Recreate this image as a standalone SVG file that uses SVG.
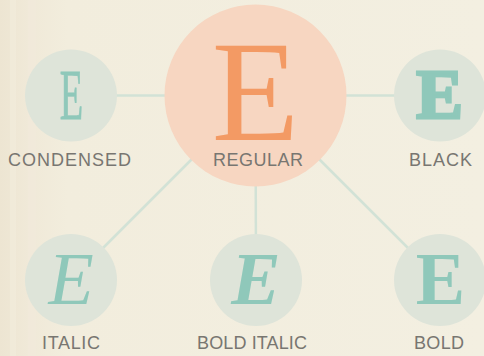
<svg xmlns="http://www.w3.org/2000/svg" width="484" height="356" viewBox="0 0 484 356">
  <defs>
    <linearGradient id="bg" x1="0" y1="0" x2="1" y2="0">
      <stop offset="0" stop-color="#ede5d2"/>
      <stop offset="0.06" stop-color="#f0e9d8"/>
      <stop offset="0.14" stop-color="#f2eddd"/>
      <stop offset="1" stop-color="#f3efe1"/>
    </linearGradient>
    <style>
      .conn { stroke: #d2e2d6; stroke-width: 2.5; fill: none; }
      .small { fill: #dee4d9; }
      .big { fill: #f7d6c1; }
      .glyph { font-family: "Liberation Serif", "Times New Roman", serif; fill: #8fc8ba; text-anchor: middle; }
      .label { font-family: "Liberation Sans", Arial, sans-serif; font-size: 18px; fill: #787671; text-anchor: middle; }
    </style>
  </defs>
  <rect x="0" y="0" width="484" height="356" fill="url(#bg)"/>
  <rect x="10" y="0" width="6" height="356" fill="#f2ecdc" opacity="0.6"/>
  <rect x="28" y="0" width="8" height="356" fill="#f1eadb" opacity="0.5"/>
  <g id="connectors">
    <line class="conn" x1="255.5" y1="95.5" x2="71" y2="95.5"/>
    <line class="conn" x1="255.5" y1="95.5" x2="440" y2="95.5"/>
    <line class="conn" x1="255.5" y1="95.5" x2="256" y2="280"/>
    <line class="conn" x1="255.5" y1="95.5" x2="71" y2="280"/>
    <line class="conn" x1="255.5" y1="95.5" x2="440" y2="280"/>
  </g>
  <g id="condensed">
    <circle class="small" cx="71" cy="95.5" r="46"/>
    <text class="glyph" font-size="71" transform="translate(71.5 119) scale(0.54 1)" x="0" y="0" stroke="#8fc8ba" stroke-width="0.8">E</text>
    <text class="label" x="69.5" y="165.5" textLength="123" lengthAdjust="spacing">CONDENSED</text>
  </g>
  <g id="regular">
    <circle class="big" cx="255.5" cy="95.5" r="91"/>
    <text class="glyph" x="255.5" y="140" font-size="143" style="fill:#f39a64">E</text>
    <text class="label" x="258" y="165.5" textLength="90" lengthAdjust="spacing">REGULAR</text>
  </g>
  <g id="black">
    <circle class="small" cx="440" cy="95.5" r="46"/>
    <text class="glyph" x="439.5" y="118" font-size="70" font-weight="bold" stroke="#8fc8ba" stroke-width="3" stroke-linejoin="miter">E</text>
    <text class="label" x="440.5" y="165.5" textLength="63" lengthAdjust="spacing">BLACK</text>
  </g>
  <g id="italic">
    <circle class="small" cx="71" cy="280" r="46"/>
    <text class="glyph" x="71" y="304" font-size="74" font-style="italic">E</text>
    <text class="label" x="71" y="349" textLength="58" lengthAdjust="spacing">ITALIC</text>
  </g>
  <g id="bold-italic">
    <circle class="small" cx="256" cy="280" r="46"/>
    <text class="glyph" x="256" y="304" font-size="74" font-style="italic" font-weight="bold">E</text>
    <text class="label" x="252" y="349" textLength="110" lengthAdjust="spacing">BOLD ITALIC</text>
  </g>
  <g id="bold">
    <circle class="small" cx="440" cy="280" r="46"/>
    <text class="glyph" x="440.5" y="304" font-size="74" font-weight="bold">E</text>
    <text class="label" x="439" y="349" textLength="50" lengthAdjust="spacing">BOLD</text>
  </g>
</svg>
